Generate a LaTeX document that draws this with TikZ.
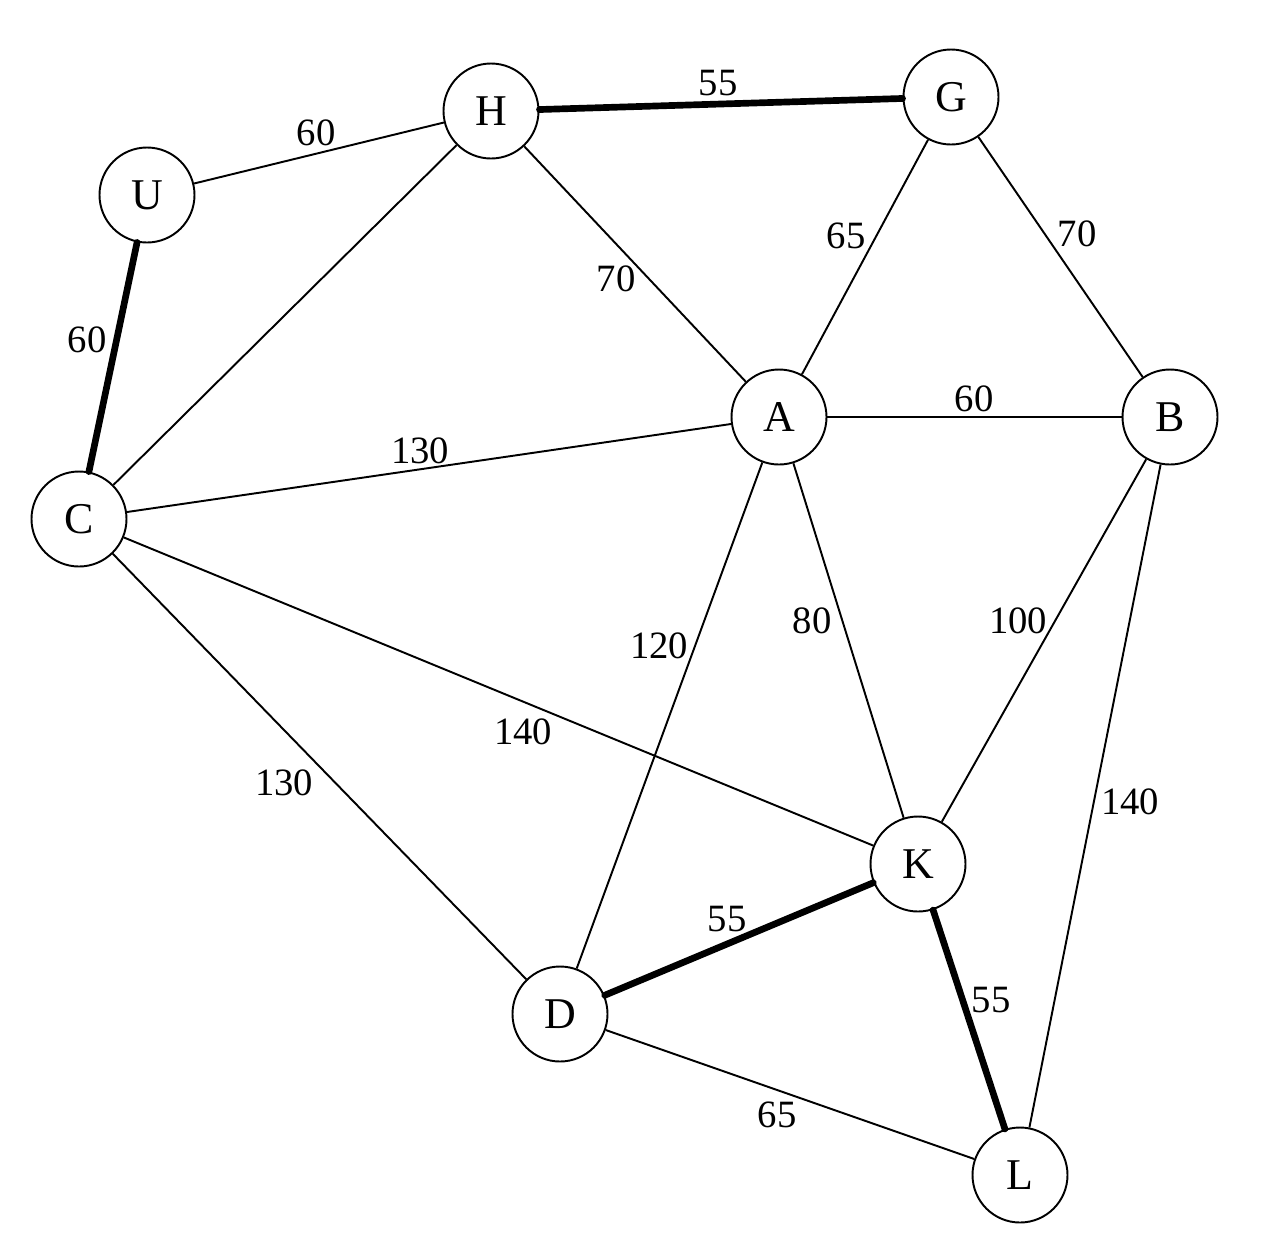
\documentclass[tikz,border=0pt]{standalone}
\usepackage{fontspec}
\setmainfont{Liberation Serif}
\usetikzlibrary{positioning}

\tikzset{
  vertex/.style={circle, draw, line width=1.1pt, fill=white, minimum size=1.9cm,
    inner sep=0pt, font=\fontsize{25}{29}\selectfont},
  link/.style={line width=1.1pt},
  chosen/.style={line width=3.8pt, line cap=round},
  weight/.style={inner sep=1pt, font=\fontsize{22}{26}\selectfont}
}

\begin{document}
\begin{tikzpicture}
  \useasboundingbox (0,0) rectangle (25.6,-25.16);

  % vertices
  \foreach \name/\x/\y in {H/9.82/-2.22, G/19.02/-1.94, U/2.94/-3.90,
      A/15.58/-8.34, B/23.40/-8.34, C/1.58/-10.38, K/18.36/-17.28,
      D/11.20/-20.28, L/20.40/-23.50}
    \node[vertex] (\name) at (\x,\y) {\name};

  % edges
  \foreach \a/\b in {U/H, H/C, H/A, G/A, G/B, A/B, C/A, C/K, C/D,
      A/D, A/K, B/K, B/L, D/L}
    \draw[link] (\a) -- (\b);

  \foreach \a/\b in {H/G, U/C, D/K, K/L}
    \draw[chosen] (\a) -- (\b);

  % edge weights
  \node[weight] (wUH) at (6.32,-2.66) {60};
  \node[weight] (wHG) at (14.36,-1.66) {55};
  \node[weight] (wUC) at (1.74,-6.80) {60};
  \node[weight] (wHA) at (12.32,-5.58) {70};
  \node[weight] (wGA) at (16.92,-4.72) {65};
  \node[weight] (wGB) at (21.54,-4.68) {70};
  \node[weight] (wAB) at (19.48,-7.98) {60};
  \node[weight] (wCA) at (8.40,-9.02) {130};
  \node[weight] (wAD) at (13.18,-12.92) {120};
  \node[weight] (wAK) at (16.24,-12.42) {80};
  \node[weight] (wBK) at (20.36,-12.42) {100};
  \node[weight] (wCK) at (10.46,-14.64) {140};
  \node[weight] (wCD) at (5.68,-15.66) {130};
  \node[weight] (wBL) at (22.60,-16.04) {140};
  \node[weight] (wDK) at (14.54,-18.38) {55};
  \node[weight] (wKL) at (19.82,-20.00) {55};
  \node[weight] (wDL) at (15.54,-22.30) {65};
\end{tikzpicture}
\end{document}
